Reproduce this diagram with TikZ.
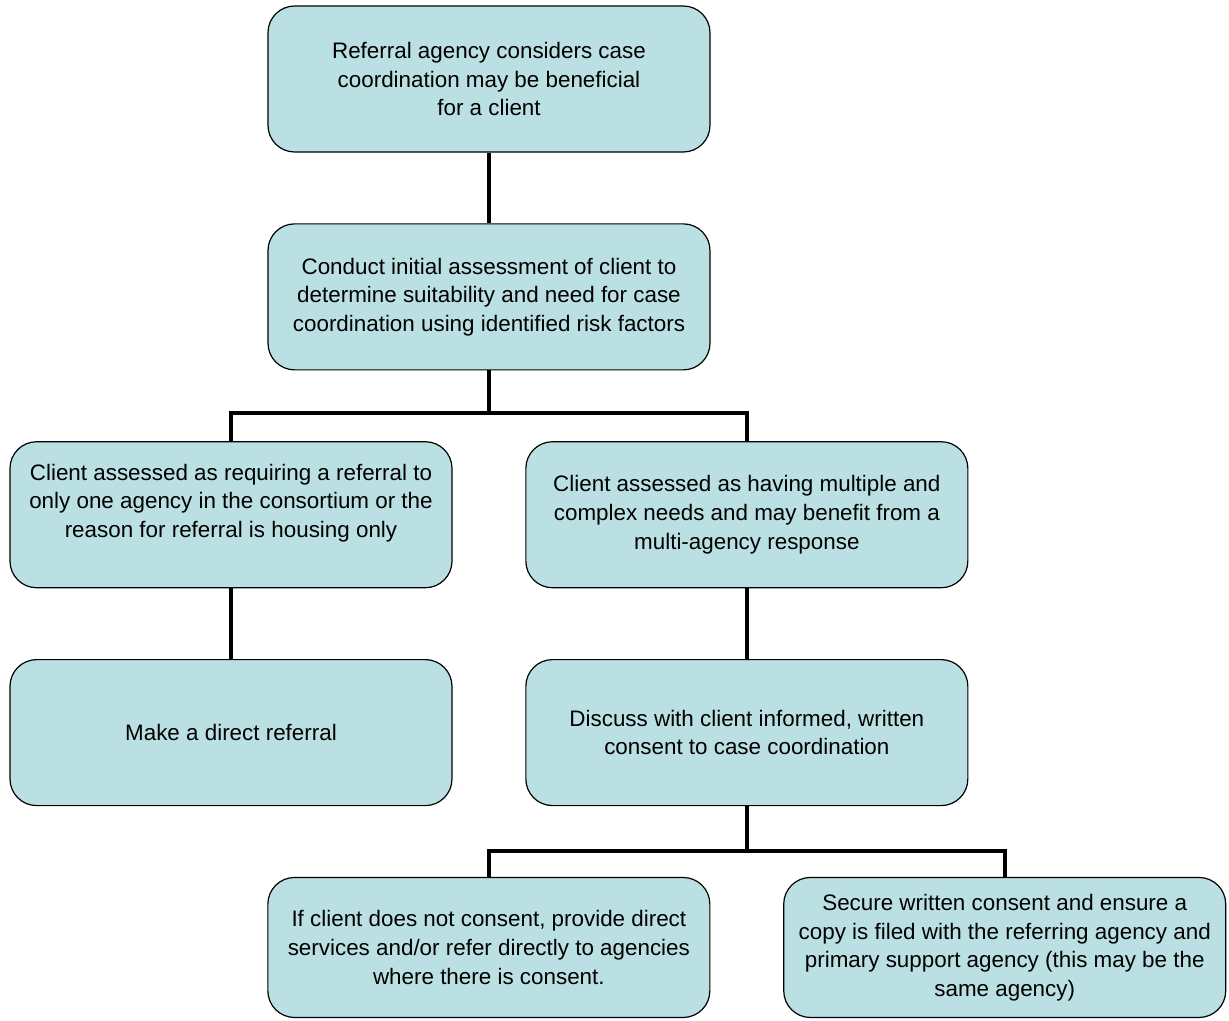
\documentclass[tikz,border=0pt]{standalone}
\usepackage{fontspec}
\setmainfont{Liberation Sans}
\usetikzlibrary{positioning}
\definecolor{boxfill}{RGB}{187,224,227}

\begin{document}
\begin{tikzpicture}[
  node distance=53pt and 54.5pt,
  stage/.style={rectangle, rounded corners=20pt, draw, line width=0.9pt, fill=boxfill,
    minimum width=331.5pt, minimum height=109.5pt, align=center,
    font=\fontsize{16.8}{21.4}\selectfont},
  link/.style={line width=3pt},
]
  \useasboundingbox (-366.75pt,-706.5pt) rectangle (555pt,59.25pt);

  \node[stage] (referral) {Referral agency considers case\\coordination may be beneficial\\for a client};
  \node[stage, below=of referral] (assess) {Conduct initial assessment of client to\\determine suitability and need for case\\coordination using identified risk factors};
  \node[stage, below=of assess, xshift=-193.5pt] (single) {Client assessed as requiring a referral to\\only one agency in the consortium or the\\reason for referral is housing only\\~};
  \node[stage, right=of single] (multi) {Client assessed as having multiple and\\complex needs and may benefit from a\\multi-agency response};
  \node[stage, below=of single] (direct) {Make a direct referral};
  \node[stage, below=of multi] (consent) {Discuss with client informed, written\\consent to case coordination};
  \node[stage, minimum height=105pt, below=of consent, xshift=-193.5pt] (noconsent) {If client does not consent, provide direct\\services and/or refer directly to agencies\\where there is consent.};
  \node[stage, minimum height=105pt, right=of noconsent] (secure) {Secure written consent and ensure a\\copy is filed with the referring agency and\\primary support agency (this may be the\\same agency)};

  % connectors
  \coordinate[below=32pt of assess.south] (split1);
  \coordinate[below=33.75pt of consent.south] (split2);

  \draw[link] (referral.south) -- (assess.north);
  \draw[link] (assess.south) -- (split1) -| (single.north);
  \draw[link] (split1) -| (multi.north);
  \draw[link] (single.south) -- (direct.north);
  \draw[link] (multi.south) -- (consent.north);
  \draw[link] (consent.south) -- (split2) -| (noconsent.north);
  \draw[link] (split2) -| (secure.north);
\end{tikzpicture}
\end{document}
